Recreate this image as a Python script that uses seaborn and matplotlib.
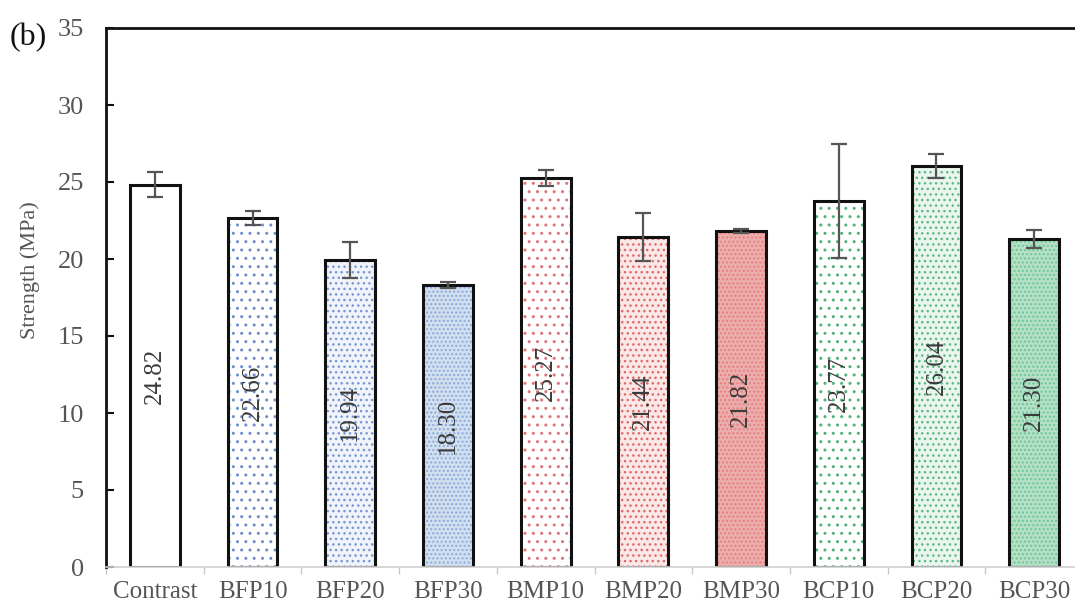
import numpy as np
import pandas as pd
import matplotlib
matplotlib.use("Agg")
import matplotlib.pyplot as plt
import seaborn as sns

# Compressive strength of each mix (MPa) and its error bar half-width
groups = ["Contrast", "BFP10", "BFP20", "BFP30", "BMP10", "BMP20", "BMP30",
          "BCP10", "BCP20", "BCP30"]
strength = [24.82, 22.66, 19.94, 18.30, 25.27, 21.44, 21.82, 23.77, 26.04, 21.30]
spread = [0.80, 0.45, 1.15, 0.20, 0.50, 1.55, 0.10, 3.70, 0.75, 0.60]

# Bar fills, dot colours and dot density per mix
fills = ["#ffffff", "#ffffff", "#eef3fb", "#cddff3",
         "#ffffff", "#fde4e4", "#f7a2a2",
         "#ffffff", "#e8f7ee", "#aee6c6"]
dots = ["#ffffff", "#6d8fcc", "#7597d2", "#8aaadc",
        "#e07474", "#e06868", "#ea7e7e",
        "#52b27b", "#5abb84", "#6cc894"]
patterns = ["", "..", "...", "....", "..", "...", "....", "..", "...", "...."]

df = pd.DataFrame({"group": groups, "strength": strength})

sns.set_theme(style="white")
plt.rcParams["font.family"] = ["Liberation Serif", "DejaVu Serif"]
plt.rcParams["hatch.linewidth"] = 1.0

fig = plt.figure(figsize=(10.75, 6.12), dpi=100)
ax = fig.add_axes([106 / 1075, 45 / 612, 977 / 1075, 539 / 612])

# Filled, dotted bars
sns.barplot(data=df, x="group", y="strength", hue="group", palette=fills,
            width=0.51, linewidth=0, legend=False, ax=ax)
for p, hc, hp in zip(ax.patches, dots, patterns):
    p.set_hatch(hp)
    p.set_edgecolor(hc)
    p.set_linewidth(0)

# Black outlines on top
n_fill = len(ax.patches)
sns.barplot(data=df, x="group", y="strength", color="white", width=0.51,
            ax=ax, legend=False)
for p in ax.patches[n_fill:]:
    p.set_facecolor("none")
    p.set_edgecolor("#111111")
    p.set_linewidth(2.2)

ax.errorbar(np.arange(len(groups)), strength, yerr=spread, fmt="none",
            ecolor="#555555", elinewidth=1.6, capsize=6, capthick=1.6, zorder=5)

for i, v in enumerate(strength):
    ax.text(i, v / 2, f"{v:.2f}", rotation=90, ha="center", va="center",
            fontsize=18, color="#3a3a3a", zorder=6)

ax.set_xlim(-0.5, len(groups) - 0.5)
ax.set_ylim(0, 35)
ax.set_yticks(np.arange(0, 36, 5))
ax.set_xlabel("")
ax.set_ylabel("Strength (MPa)", fontsize=16, color="#555555")
ax.yaxis.set_label_coords(-0.068, 0.55)

ax.tick_params(axis="y", direction="in", length=6, width=1.5, color="#111111",
               labelsize=19, labelcolor="#555555", pad=16, left=True)
ax.set_xticks(np.arange(len(groups)))
ax.set_xticklabels(groups)
ax.set_xticks(np.arange(len(groups) + 1) - 0.5, minor=True)
ax.tick_params(axis="x", which="major", length=0, labelsize=18,
               labelcolor="#555555", pad=10)
ax.tick_params(axis="x", which="minor", direction="out", length=5, width=1,
               color="#c8c8c8", bottom=True)

for side in ["left", "top", "right"]:
    ax.spines[side].set_color("#111111")
    ax.spines[side].set_linewidth(2)
ax.spines["bottom"].set_color("#cfcfcf")
ax.spines["bottom"].set_linewidth(1.2)

fig.text(10 / 1075, 1 - 38 / 612, "(b)", fontsize=23, color="#111111",
         va="center", ha="left")

fig.savefig("out.png", dpi=100)
